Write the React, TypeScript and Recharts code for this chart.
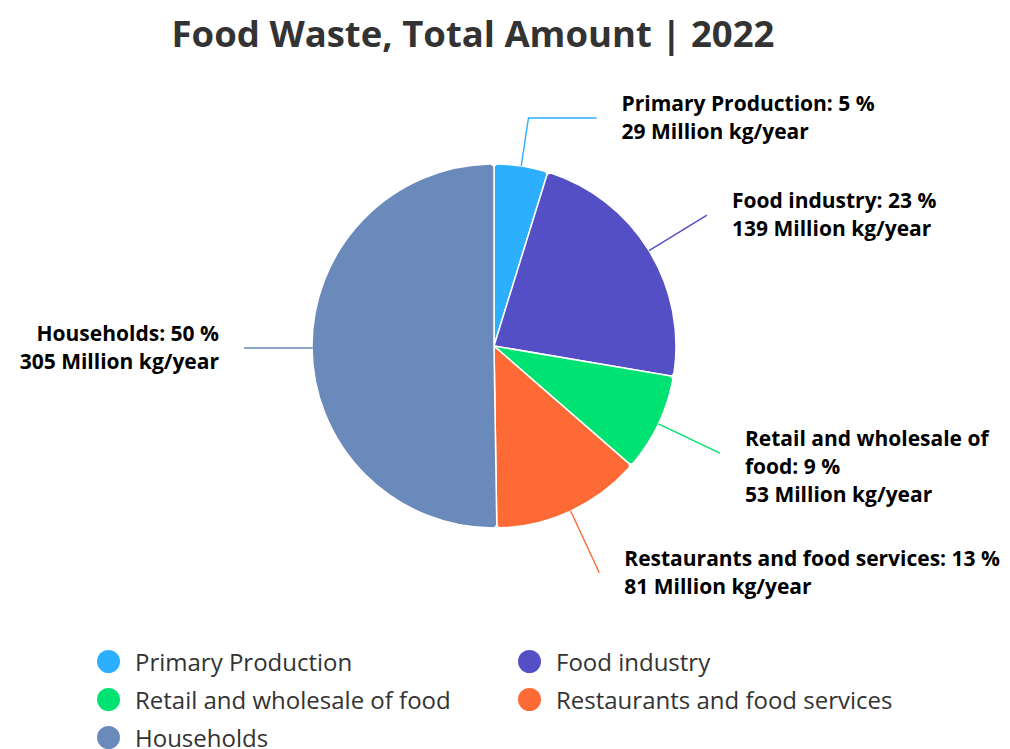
import { PieChart, Pie, Cell, Legend } from 'recharts';

const categories = [
  'Primary Production',
  'Food industry',
  'Retail and wholesale of food',
  'Restaurants and food services',
  'Households',
];
const amounts = [29, 139, 53, 81, 305];
const colors = ['#2caffe', '#544fc5', '#00e272', '#fe6a35', '#6b8abc'];

const data = categories.map((name, i) => ({ name, value: amounts[i] }));

const RAD = Math.PI / 180;
const FONT = '"Open Sans", "Noto Sans", sans-serif';
const LABEL_SIZE = 21;
const LABEL_RADIUS = 250; // where label anchors sit
const PLOT_TOP = 90; // labels can't go above this

let ctx: CanvasRenderingContext2D | null = null;
const measure = (s: string) => {
  if (!ctx) ctx = document.createElement('canvas').getContext('2d');
  if (!ctx) return s.length * 11;
  ctx.font = `700 ${LABEL_SIZE}px "Open Sans"`;
  return ctx.measureText(s).width;
};

// greedy word wrap, like the chart lib does when a label runs off the edge
const wrap = (text: string, maxW: number) => {
  const lines: string[] = [];
  let cur = '';
  for (const w of text.split(' ')) {
    const t = cur ? cur + ' ' + w : w;
    if (cur && measure(t) > maxW) {
      lines.push(cur);
      cur = w;
    } else cur = t;
  }
  if (cur) lines.push(cur);
  return lines;
};

const renderLabel = (props: any) => {
  const { cx, cy, midAngle, outerRadius, name, value, percent, index } = props;
  const cos = Math.cos(-midAngle * RAD);
  const sin = Math.sin(-midAngle * RAD);
  const side = cos >= 0 ? 1 : -1;
  const sx = cx + outerRadius * cos;
  const sy = cy + outerRadius * sin;

  // anchor y on the label circle, kept inside the plot
  const ly = Math.max(cy + LABEL_RADIUS * sin, PLOT_TOP + 28);
  const dy = ly - cy;
  const hx = cx + side * Math.sqrt(Math.max(LABEL_RADIUS ** 2 - dy * dy, 0));

  // crook: follow the radius until the anchor's height
  let ex = hx;
  if (Math.abs(sin) > 0.05) {
    const t = (ly - sy) / sin;
    ex = sx + t * cos;
    if (side * (ex - hx) > 0) ex = hx;
  } else ex = sx;

  const tx = hx + side * 25;
  const avail = side > 0 ? 1008 - tx : tx - 8;
  const lines = [
    ...wrap(`${name}: ${Math.round(percent * 100)} %`, avail),
    `${value} Million kg/year`,
  ];
  return (
    <g key={`lbl-${index}`}>
      <polyline
        points={`${sx},${sy} ${ex},${ly} ${hx},${ly}`}
        fill="none"
        stroke={colors[index]}
        strokeWidth={1.4}
      />
      <text
        x={tx}
        y={ly - 7}
        textAnchor={side > 0 ? 'start' : 'end'}
        fill="#000"
        style={{ fontFamily: FONT, fontSize: LABEL_SIZE, fontWeight: 700 }}
      >
        {lines.map((l, i) => (
          <tspan key={i} x={tx} dy={i === 0 ? 0 : 28}>
            {l}
          </tspan>
        ))}
      </text>
    </g>
  );
};

const LegendContent = () => (
  <div
    style={{
      display: 'grid',
      gridTemplateColumns: '421px auto',
      gridAutoRows: '38px',
      fontFamily: FONT,
      fontSize: 24,
      color: '#333',
    }}
  >
    {categories.map((c, i) => (
      <div key={c} style={{ display: 'flex', alignItems: 'center' }}>
        <span
          style={{
            width: 23,
            height: 23,
            borderRadius: '50%',
            background: colors[i],
            marginRight: 15,
            flexShrink: 0,
          }}
        />
        <span style={{ whiteSpace: 'nowrap' }}>{c}</span>
      </div>
    ))}
  </div>
);

export default function App() {
  return (
    <div style={{ position: 'relative', width: 1010, height: 749, background: '#fff' }}>
      <style>{`body{margin:0}`}</style>
      <div
        style={{
          position: 'absolute',
          left: 0,
          top: 15,
          width: 946,
          textAlign: 'center',
          fontFamily: FONT,
          fontWeight: 700,
          fontSize: 36.5,
          lineHeight: '36px',
          color: '#333',
          zIndex: 1,
        }}
      >
        Food Waste, Total Amount | 2022
      </div>
      <PieChart width={1010} height={749} margin={{ top: 0, right: 0, bottom: 0, left: 0 }}>
        <Pie
          data={data}
          dataKey="value"
          nameKey="name"
          cx={494}
          cy={346}
          outerRadius={182}
          startAngle={90}
          endAngle={-270}
          cornerRadius={4}
          label={renderLabel}
          labelLine={false}
          isAnimationActive={false}
        >
          {data.map((d, i) => (
            <Cell key={d.name} fill={colors[i]} stroke="#fff" strokeWidth={1.5} />
          ))}
        </Pie>
        <Legend
          content={<LegendContent />}
          wrapperStyle={{ position: 'absolute', left: 97, top: 642, width: 900, bottom: 'auto' }}
        />
      </PieChart>
    </div>
  );
}
